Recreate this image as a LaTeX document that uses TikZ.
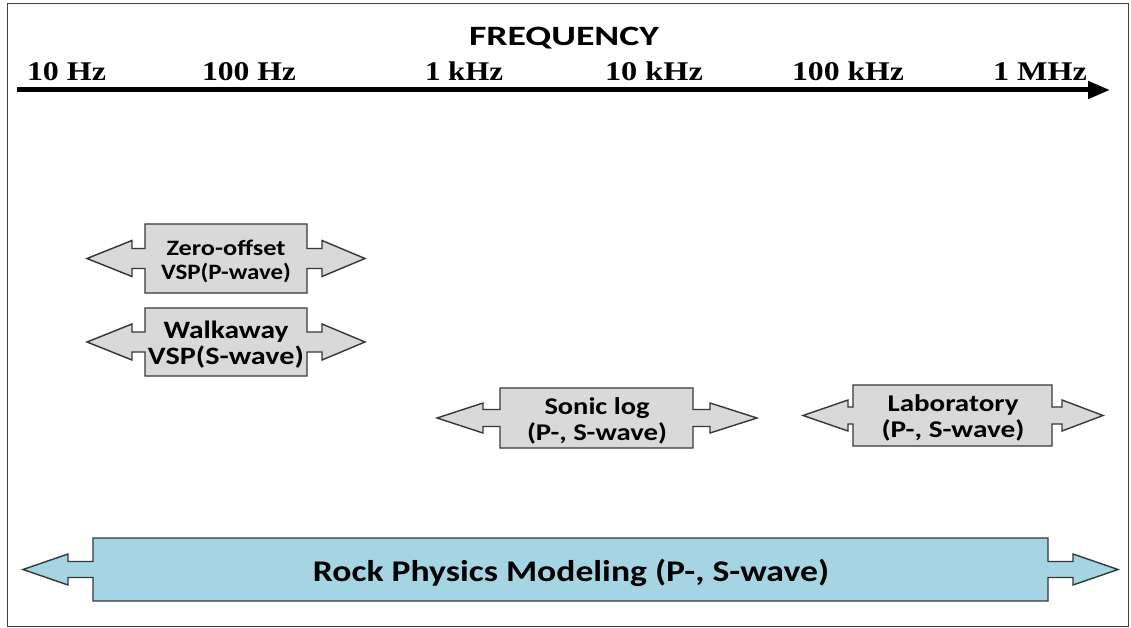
\documentclass[tikz,border=0pt]{standalone}
\usepackage{fontspec}
\usepackage{graphicx}
\setmainfont{Carlito}
\newfontfamily\axisfont{Liberation Serif}
\usetikzlibrary{arrows.meta}

\definecolor{boxgray}{RGB}{217,217,217}
\definecolor{boxblue}{RGB}{165,213,227}
\definecolor{edgegray}{RGB}{55,55,55}

% stretch a piece of text to a given width (in pt), keeping its height
\newcommand\wide[2]{\resizebox{#1pt}{\height}{#2}}

% shaft half-height and head half-height for the next callout
\newcommand\callsizes[2]{\def\shafth{#1}\def\headh{#2}}
% left-right arrow callout: style, tipL, shaftL, boxL, boxR, shaftR, tipR, top, bottom
\newcommand\lrcallout[9]{%
  \pgfmathsetmacro\cy{(#8+#9)/2}%
  \pgfmathsetmacro\sa{\cy-\shafth}\pgfmathsetmacro\sb{\cy+\shafth}%
  \pgfmathsetmacro\ha{\cy-\headh}\pgfmathsetmacro\hb{\cy+\headh}%
  \draw[#1] (#4,#8) -- (#5,#8) -- (#5,\sa) -- (#6,\sa) -- (#6,\ha) -- (#7,\cy)
    -- (#6,\hb) -- (#6,\sb) -- (#5,\sb) -- (#5,#9) -- (#4,#9) -- (#4,\sb)
    -- (#3,\sb) -- (#3,\hb) -- (#2,\cy) -- (#3,\ha) -- (#3,\sa) -- (#4,\sa) -- cycle;}

\tikzset{
  callgray/.style={draw=edgegray, line width=1.4pt, fill=boxgray, line join=miter},
  callblue/.style={draw=edgegray, line width=1.4pt, fill=boxblue, line join=miter},
  lbl/.style={inner sep=0pt, align=center, font=\bfseries},
  tick/.style={inner sep=0pt, anchor=base, font=\axisfont\bfseries\fontsize{27}{29}\selectfont},
}

\begin{document}
\begin{tikzpicture}[x=1pt, y=-1pt]
  % frame
  \draw[draw=black!75, line width=1pt, fill=white] (7,4) rectangle (1128,626);
  \useasboundingbox (0,0) rectangle (1131,628);

  % frequency axis
  \node[inner sep=0pt, anchor=base, font=\bfseries\fontsize{28}{30}\selectfont] (title) at (564,46) {\wide{190}{FREQUENCY}};
  \coordinate (axL) at (17,90);
  \coordinate (axR) at (1110,90);
  \draw[line width=5pt, -{Triangle[length=22pt, width=17pt]}] (axL) -- (axR);
  \node[tick] (t1) at (66.5,81) {\wide{79}{10 Hz}};
  \node[tick] (t2) at (249,81) {\wide{94}{100 Hz}};
  \node[tick] (t3) at (464,81) {\wide{78}{1 kHz}};
  \node[tick] (t4) at (654,81) {\wide{98}{10 kHz}};
  \node[tick] (t5) at (848,81) {\wide{112}{100 kHz}};
  \node[tick] (t6) at (1040,81) {\wide{94}{1 MHz}};

  % measurement ranges
  \callsizes{10}{18}
  \lrcallout{callgray}{87}{132}{145}{307}{322}{365}{224}{293}
  \node[lbl, font=\bfseries\fontsize{22}{24}\selectfont] (zero) at (226,261)
    {\wide{119}{Zero-offset}\\\wide{130}{VSP(P-wave)}};

  \lrcallout{callgray}{87}{132}{145}{307}{322}{365}{308}{376}
  \node[lbl, font=\bfseries\fontsize{25}{26}\selectfont] (walk) at (226,345)
    {\wide{125}{Walkaway}\\\wide{156}{VSP(S-wave)}};

  \callsizes{8.5}{15}
  \lrcallout{callgray}{437}{483}{500}{693}{710}{757}{388}{448}
  \node[lbl, font=\bfseries\fontsize{24}{26}\selectfont] (sonic) at (597,421)
    {\wide{105}{Sonic log}\\\wide{140}{(P-, S-wave)}};

  \callsizes{8.5}{15.5}
  \lrcallout{callgray}{803}{848}{853}{1052}{1062}{1103}{385}{446}
  \node[lbl, font=\bfseries\fontsize{24}{26}\selectfont] (lab) at (953,418)
    {\wide{131}{Laboratory}\\\wide{143}{(P-, S-wave)}};

  \callsizes{8}{15.5}
  \lrcallout{callblue}{23}{68}{93}{1048}{1073}{1118}{538}{601}
  \node[lbl, font=\bfseries\fontsize{30}{32}\selectfont] (rock) at (571,573)
    {\wide{516}{Rock Physics Modeling (P-, S-wave)}};
\end{tikzpicture}
\end{document}
